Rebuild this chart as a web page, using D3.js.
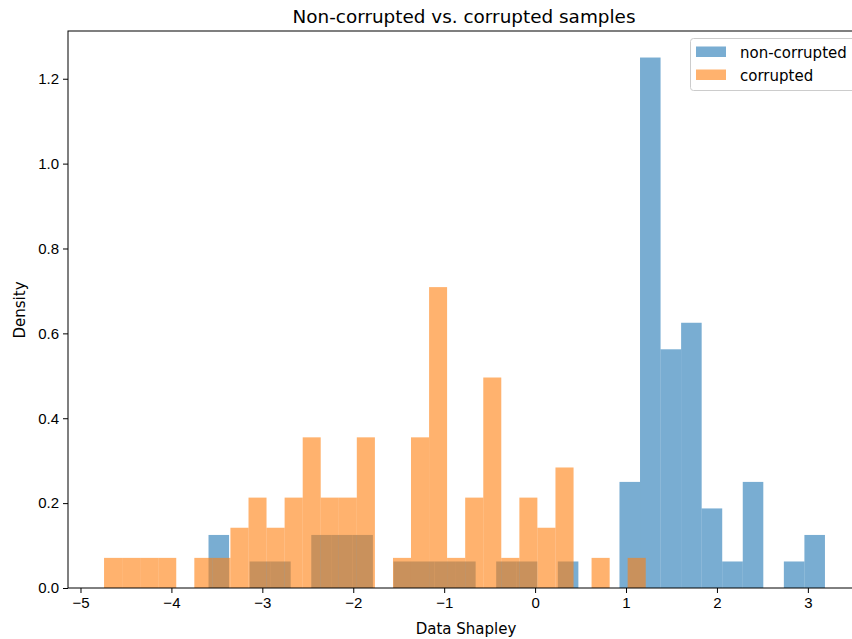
<!DOCTYPE html>
<html>
<head>
<meta charset="utf-8">
<script src="https://cdn.jsdelivr.net/npm/d3@7"></script>
<style>
    body { margin: 0; background: #fff; }
    svg { display: block; font-family: "DejaVu Sans", sans-serif; }
    .vis-axis path, .vis-axis line { stroke: #000; stroke-width: 1; }
    .vis-axis text { font-size: 15px; fill: #000; }
</style>
</head>
<body>
<div id="chart"></div>
<script>
// bin edges (31 each) and density heights (30 each)
var cleanEdges = [-3.592, -3.366, -3.140, -2.914, -2.688, -2.462, -2.236, -2.010, -1.784, -1.558,
    -1.332, -1.106, -0.880, -0.654, -0.428, -0.202, 0.024, 0.250, 0.476, 0.702,
    0.928, 1.154, 1.380, 1.606, 1.832, 2.058, 2.284, 2.510, 2.736, 2.962, 3.188];
var cleanDensity = [0.125, 0, 0.0625, 0.0625, 0, 0.125, 0.125, 0.125, 0, 0.0625,
    0.0625, 0.0625, 0.0625, 0, 0.0625, 0.0625, 0, 0.0625, 0, 0,
    0.25, 1.25, 0.5625, 0.625, 0.1875, 0.0625, 0.25, 0, 0.0625, 0.125];

var corruptEdges = [-4.741, -4.542, -4.344, -4.145, -3.947, -3.748, -3.549, -3.351, -3.152, -2.954,
    -2.755, -2.556, -2.358, -2.159, -1.961, -1.762, -1.563, -1.365, -1.166, -0.968,
    -0.769, -0.570, -0.372, -0.173, 0.025, 0.224, 0.423, 0.621, 0.820, 1.018, 1.217];
var corruptDensity = [0.071, 0.071, 0.071, 0.071, 0, 0.071, 0.071, 0.142, 0.213, 0.142,
    0.213, 0.355, 0.213, 0.213, 0.355, 0, 0.071, 0.355, 0.709, 0.071,
    0.213, 0.496, 0.071, 0.213, 0.142, 0.284, 0, 0.071, 0, 0.071];

var seriesNames = ["non-corrupted", "corrupted"];
var seriesColours = ["#1f77b4", "#ff7f0e"];
var xTicks = [-5, -4, -3, -2, -1, 0, 1, 2, 3];
var yTicks = [0, 0.2, 0.4, 0.6, 0.8, 1.0, 1.2];

var fullWidth = 852;
var fullHeight = 639;
var margins = { top: 31, right: -9, bottom: 51, left: 68 };
var width = fullWidth - margins.left - margins.right;
var height = fullHeight - margins.top - margins.bottom;

var allEdges = cleanEdges.concat(corruptEdges);
var xMin = d3.min(allEdges), xMax = d3.max(allEdges);
var xPad = (xMax - xMin) * 0.05;
var yMax = d3.max(cleanDensity.concat(corruptDensity)) * 1.05;

var xScale = d3.scaleLinear().domain([xMin - xPad, xMax + xPad]).range([0, width]);
var yScale = d3.scaleLinear().domain([0, yMax]).range([height, 0]);

var canvas = d3.select("#chart").append("svg")
    .attr("width", fullWidth)
    .attr("height", fullHeight);

canvas.append("text")
    .attr("x", 464)
    .attr("y", 23)
    .attr("text-anchor", "middle")
    .style("font-size", "18.4px")
    .text("Non-corrupted vs. corrupted samples");

var svg = canvas.append("g")
    .attr("transform", "translate(" + margins.left + "," + margins.top + ")");

var makeBins = function(edges, density) {
    return density.map(function(d, i) {
        return { x0: edges[i], x1: edges[i + 1], y: d };
    });
};

var seriesData = [makeBins(cleanEdges, cleanDensity), makeBins(corruptEdges, corruptDensity)];

var seriesContainer = svg.append("g").attr("class", "vis-series");
seriesContainer.selectAll("g")
    .data(seriesData)
    .enter()
    .append("g")
    .attr("fill", function(d, i) { return seriesColours[i]; })
    .attr("fill-opacity", 0.6)
    .each(function(bins) {
        d3.select(this).selectAll("rect")
            .data(bins.filter(function(b) { return b.y > 0; }))
            .enter()
            .append("rect")
            .attr("x", function(b) { return xScale(b.x0); })
            .attr("width", function(b) { return xScale(b.x1) - xScale(b.x0); })
            .attr("y", function(b) { return yScale(b.y); })
            .attr("height", function(b) { return height - yScale(b.y); });
    });

// frame (right spine falls outside the crop)
svg.append("rect")
    .attr("x", 0).attr("y", 0)
    .attr("width", width).attr("height", height)
    .attr("fill", "none")
    .attr("stroke", "#000")
    .attr("stroke-width", 1);

var xAxis = d3.axisBottom(xScale).tickValues(xTicks).tickSize(5).tickSizeOuter(0).tickPadding(4)
    .tickFormat(d3.format("d"));
var yAxis = d3.axisLeft(yScale).tickValues(yTicks).tickSize(5).tickSizeOuter(0).tickPadding(4)
    .tickFormat(d3.format(".1f"));

var xAxisContainer = svg.append("g").attr("class", "vis-axis xAxis")
    .attr("transform", "translate(0," + height + ")")
    .call(xAxis);
var yAxisContainer = svg.append("g").attr("class", "vis-axis yAxis").call(yAxis);
xAxisContainer.select(".domain").remove();
yAxisContainer.select(".domain").remove();

canvas.append("text")
    .attr("x", 466)
    .attr("y", 634)
    .attr("text-anchor", "middle")
    .style("font-size", "15px")
    .text("Data Shapley");

canvas.append("text")
    .attr("transform", "translate(25,310) rotate(-90)")
    .attr("text-anchor", "middle")
    .style("font-size", "15px")
    .text("Density");

// legend
var legend = canvas.append("g").attr("transform", "translate(690,38)");
legend.append("rect")
    .attr("x", 0.5).attr("y", 0.5)
    .attr("width", 190).attr("height", 52)
    .attr("rx", 3)
    .attr("fill", "#fff")
    .attr("fill-opacity", 0.8)
    .attr("stroke", "#ccc");

var legendItem = legend.selectAll(".legend-item")
    .data(seriesNames)
    .enter()
    .append("g")
    .attr("class", "legend-item")
    .attr("transform", function(d, i) { return "translate(6," + (8.5 + i * 23) + ")"; });
legendItem.append("rect")
    .attr("width", 30).attr("height", 10.5)
    .attr("fill", function(d, i) { return seriesColours[i]; })
    .attr("fill-opacity", 0.6);
legendItem.append("text")
    .attr("x", 44).attr("y", 11)
    .style("font-size", "15px")
    .text(function(d) { return d; });
</script>
</body>
</html>
